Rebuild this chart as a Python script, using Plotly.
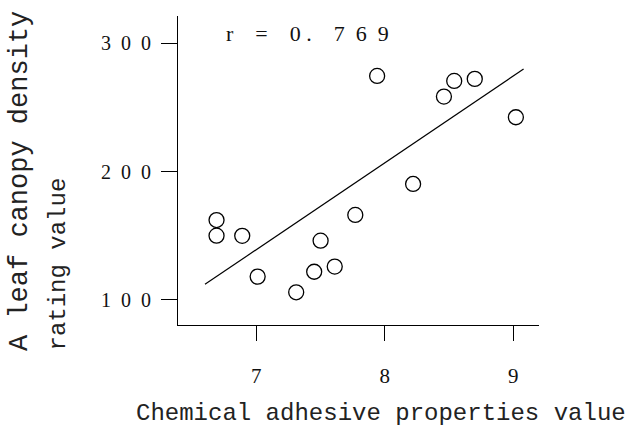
import plotly.graph_objects as go

# ---- data ----
adhesive_x = [6.69, 6.69, 6.89, 7.01, 7.31, 7.45, 7.50, 7.61, 7.77, 7.94, 8.22, 8.46, 8.54, 8.70, 9.02]
canopy_y = [162.3, 150.1, 150.0, 118.2, 106.0, 122.0, 146.2, 126.0, 166.3, 274.6, 190.4, 258.5, 270.7, 272.3, 242.4]
fit_x = [6.60, 9.08]
fit_y = [112.2, 280.0]
x_ticks = [7, 8, 9]
x_tick_labels = ["7", "8", "9"]
y_ticks = [100, 200, 300]
y_tick_labels = ["1\u20020\u20020", "2\u20020\u20020", "3\u20020\u20020"]
r_label = "r\u2002\u2002=\u2002\u20020 .\u2002\u20027\u20026\u20029"
x_title = "Chemical adhesive properties value"
y_title_1 = "A leaf canopy density"
y_title_2 = "rating value"

W, H = 627, 428
L, R, T, B = 178, 88, 16, 103
PW, PH = W - L - R, H - T - B


def px(xp):
    return (xp - L) / PW


def py(yp):
    return (H - B - yp) / PH


fig = go.Figure()
fig.add_trace(go.Scatter(
    x=fit_x, y=fit_y, mode="lines",
    line=dict(color="black", width=1.2), showlegend=False, hoverinfo="skip"))
fig.add_trace(go.Scatter(
    x=adhesive_x, y=canopy_y, mode="markers",
    marker=dict(symbol="circle-open", size=15, color="black", line=dict(width=1.3)),
    showlegend=False))

serif = "Liberation Serif"
mono = "Liberation Mono"
txt = "#222"

fig.update_layout(
    width=W, height=H,
    margin=dict(l=L, r=R, t=T, b=B, pad=0),
    paper_bgcolor="white", plot_bgcolor="white",
    xaxis=dict(range=[6.39, 9.2], tickmode="array", tickvals=x_ticks, ticktext=x_tick_labels,
               showline=True, linecolor="black", linewidth=1, mirror=False,
               ticks="outside", ticklen=15, tickwidth=1, tickcolor="black",
               showgrid=False, zeroline=False, ticklabelstandoff=17,
               tickfont=dict(family=serif, size=21, color="#111")),
    yaxis=dict(range=[80.5, 321.3], tickmode="array", tickvals=y_ticks, ticktext=y_tick_labels,
               showline=True, linecolor="black", linewidth=1, mirror=False,
               ticks="outside", ticklen=16, tickwidth=1, tickcolor="black",
               showgrid=False, zeroline=False, ticklabelstandoff=6,
               tickfont=dict(family=serif, size=20, color="#111")),
    annotations=[
        dict(text=r_label, x=px(224), y=py(33), xref="paper", yref="paper",
             xanchor="left", yanchor="middle", showarrow=False,
             font=dict(family=serif, size=22, color="#111")),
        dict(text=x_title, x=px(381), y=py(413), xref="paper", yref="paper",
             xanchor="center", yanchor="middle", showarrow=False,
             font=dict(family=mono, size=24, color=txt)),
        dict(text=y_title_1, x=px(20), y=py(353), xref="paper", yref="paper",
             xanchor="center", yanchor="bottom", textangle=-90, showarrow=False,
             font=dict(family=mono, size=27, color=txt)),
        dict(text=y_title_2, x=px(58), y=py(353), xref="paper", yref="paper",
             xanchor="center", yanchor="bottom", textangle=-90, showarrow=False,
             font=dict(family=mono, size=24, color=txt)),
    ],
)

fig.write_html("out.html", config={"displayModeBar": False},
               post_script="document.body.style.margin='0';")
